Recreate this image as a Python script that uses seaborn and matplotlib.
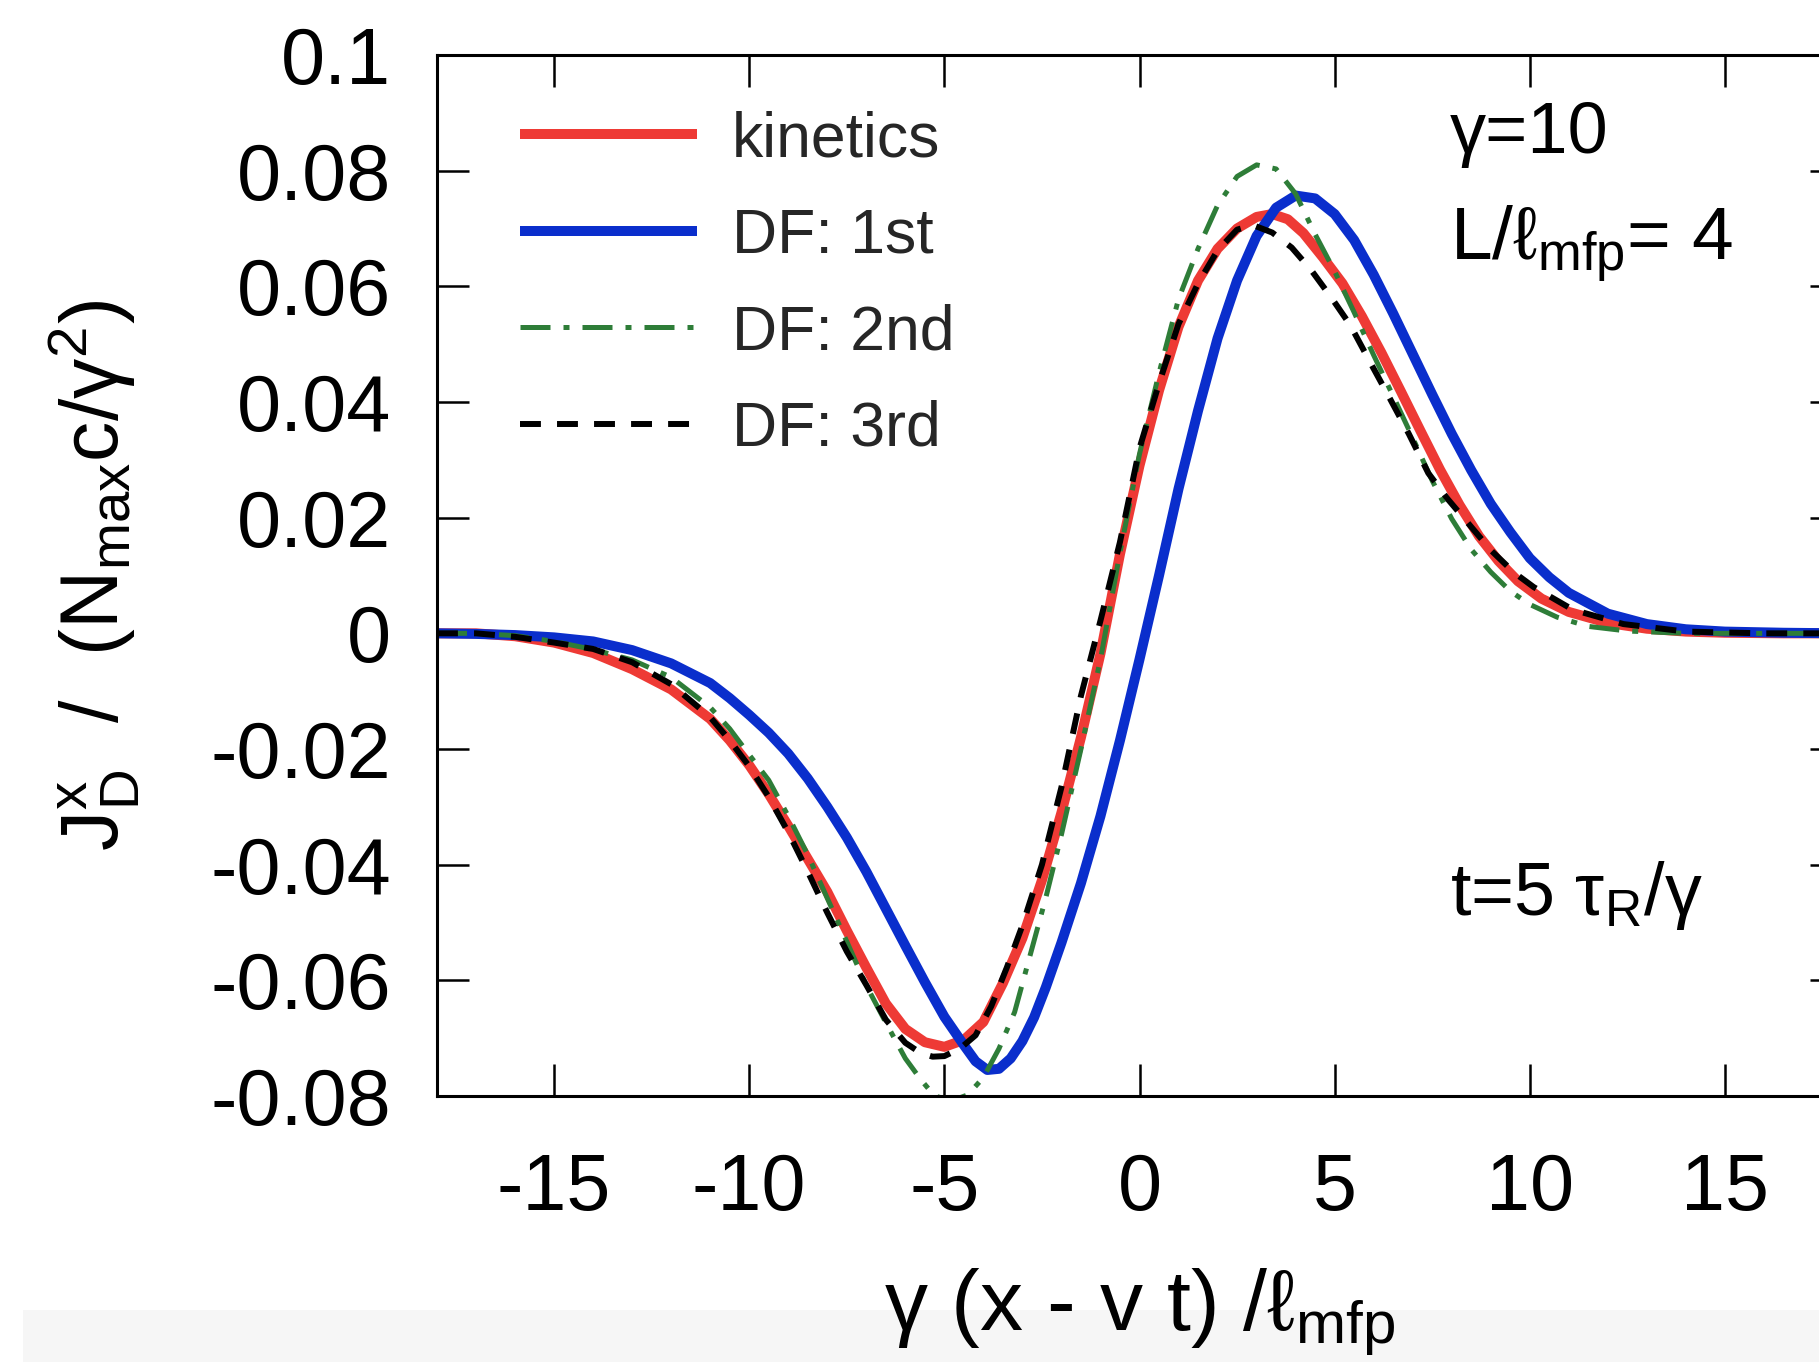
import matplotlib
matplotlib.use("Agg")
import matplotlib.pyplot as plt
from matplotlib.patches import Rectangle
import seaborn as sns

# ---------------- data ----------------
kin_x = [-18, -17, -16, -15, -14, -13, -12, -11, -10.5, -10, -9.5, -9, -8.5, -8, -7.5, -7,
         -6.5, -6, -5.5, -5, -4.5, -4, -3.5, -3, -2.5, -2, -1.5, -1, -0.5, 0, 0.5, 1, 1.5,
         2, 2.5, 3, 3.4, 3.8, 4.2, 4.7, 5.2, 5.7, 6.2, 6.7, 7.2, 7.7, 8.2, 8.7, 9.2, 9.7,
         10.3, 11, 12, 13, 14, 15, 16.5, 18]
kin_y = [0.0, 0.0, -0.0005, -0.0016, -0.0034, -0.0062, -0.0097, -0.0148, -0.0185, -0.0228,
         -0.0278, -0.0333, -0.0390, -0.0447, -0.0514, -0.0578, -0.0640, -0.0684, -0.0707,
         -0.0715, -0.0703, -0.0672, -0.0605, -0.0527, -0.0427, -0.0310, -0.0180, -0.0035,
         0.0137, 0.0290, 0.0420, 0.0530, 0.0610, 0.0665, 0.0700, 0.0720, 0.0725, 0.0716,
         0.0692, 0.0650, 0.0605, 0.0548, 0.0485, 0.0418, 0.0350, 0.0283, 0.0222, 0.0168,
         0.0125, 0.0090, 0.0060, 0.0037, 0.0018, 0.0008, 0.0003, 0.0001, 0.0, 0.0]

df1_x = [-18, -17, -16, -15, -14, -13, -12, -11, -10.5, -10, -9.5, -9, -8.5, -8, -7.5, -7,
         -6.5, -6, -5.5, -5, -4.5, -4.2, -3.9, -3.6, -3.3, -3.0, -2.7, -2.4, -2, -1.5, -1,
         -0.5, 0, 0.5, 1, 1.5, 2, 2.5, 3, 3.5, 4, 4.5, 5, 5.5, 6, 6.5, 7, 7.5, 8, 8.5, 9,
         9.5, 10, 10.5, 11, 12, 13, 14, 15, 16.5, 18]
df1_y = [0.0, -0.0001, -0.0003, -0.0007, -0.0014, -0.0029, -0.0052, -0.0086, -0.0112, -0.0141,
         -0.0172, -0.0208, -0.0251, -0.0300, -0.0353, -0.0412, -0.0476, -0.0540, -0.0603,
         -0.0663, -0.0712, -0.0740, -0.0755, -0.0753, -0.0735, -0.0705, -0.0664, -0.0612,
         -0.0535, -0.0432, -0.0316, -0.0185, -0.0045, 0.0100, 0.0250, 0.0385, 0.0510,
         0.0610, 0.0687, 0.0736, 0.0757, 0.0752, 0.0725, 0.0680, 0.0620, 0.0553, 0.0483,
         0.0413, 0.0345, 0.0282, 0.0224, 0.0175, 0.0130, 0.0097, 0.0070, 0.0034, 0.0016,
         0.0007, 0.0003, 0.0001, 0.0]

df2_x = [-18, -17, -16, -15, -14, -13, -12, -11, -10.5, -10, -9.5, -9, -8.5, -8, -7.5, -7,
         -6.5, -6, -5.6, -5.25, -4.8, -4.4, -4, -3.6, -3.2, -2.8, -2.4, -2, -1.5, -1, -0.5,
         0, 0.5, 1, 1.5, 2, 2.5, 3, 3.5, 4, 4.5, 5, 5.5, 6, 6.5, 7, 7.5, 8, 8.5, 9, 9.5,
         10, 10.7, 11.5, 12.5, 14, 18]
df2_y = [0.0, 0.0, -0.0004, -0.0014, -0.0028, -0.0046, -0.0076, -0.0128, -0.0165, -0.0210,
         -0.0254, -0.0316, -0.0383, -0.0458, -0.0533, -0.0609, -0.0673, -0.0735, -0.0772,
         -0.0800, -0.0808, -0.0798, -0.0768, -0.0718, -0.0655, -0.0556, -0.0457, -0.0348,
         -0.0200, -0.0045, 0.0140, 0.0310, 0.0450, 0.0578, 0.0665, 0.0740, 0.0790, 0.0810,
         0.0803, 0.0760, 0.0690, 0.0626, 0.0555, 0.0481, 0.0410, 0.0338, 0.0264, 0.0198,
         0.0145, 0.0106, 0.0073, 0.0050, 0.0028, 0.0012, 0.0004, 0.0, 0.0]

df3_x = [-18, -17, -16, -15, -14, -13, -12, -11, -10.5, -10, -9.5, -9, -8.5, -8, -7.5, -7,
         -6.5, -6, -5.6, -5.3, -5, -4.6, -4.2, -3.8, -3.4, -3, -2.5, -2, -1.5, -1, -0.5, 0,
         0.5, 1, 1.5, 2, 2.5, 2.9, 3.4, 3.9, 4.4, 4.9, 5.4, 5.9, 6.4, 6.9, 7.4, 7.9, 8.4,
         9, 9.6, 10.1, 11.1, 12.4, 14, 16, 18]
df3_y = [0.0, 0.0, -0.0006, -0.0016, -0.0027, -0.0050, -0.0088, -0.0145, -0.0185, -0.0230,
         -0.0283, -0.0344, -0.0412, -0.0483, -0.0550, -0.0608, -0.0668, -0.0708, -0.0726,
         -0.0732, -0.0731, -0.0718, -0.0695, -0.0645, -0.0578, -0.0505, -0.0400, -0.0266,
         -0.0108, 0.0022, 0.0158, 0.0320, 0.0432, 0.0535, 0.0605, 0.0662, 0.0698, 0.0706,
         0.0693, 0.0667, 0.0628, 0.0582, 0.0533, 0.0470, 0.0408, 0.0345, 0.0277, 0.0232,
         0.0192, 0.0144, 0.0105, 0.0080, 0.0041, 0.0016, 0.0003, 0.0, 0.0]

series_labels = ["kinetics", "DF: 1st", "DF: 2nd", "DF: 3rd"]
x_ticks = [-15, -10, -5, 0, 5, 10, 15]
x_tick_labels = ["-15", "-10", "-5", "0", "5", "10", "15"]
y_ticks = [-0.08, -0.06, -0.04, -0.02, 0.0, 0.02, 0.04, 0.06, 0.08, 0.1]
y_tick_labels = ["-0.08", "-0.06", "-0.04", "-0.02", "0", "0.02", "0.04", "0.06", "0.08", "0.1"]

# ---------------- style ----------------
sns.set_theme(style="ticks")
plt.rcParams["font.family"] = ["Liberation Sans", "DejaVu Sans"]
plt.rcParams["mathtext.fontset"] = "custom"
plt.rcParams["mathtext.rm"] = "Liberation Sans"
plt.rcParams["mathtext.it"] = "Liberation Sans:italic"
plt.rcParams["mathtext.bf"] = "Liberation Sans:bold"

W, H = 1819, 1362
fig = plt.figure(figsize=(W / 100, H / 100), dpi=100)
fig.patch.set_facecolor("white")
fig.add_artist(Rectangle((23 / W, 0), 1, 52 / H, transform=fig.transFigure,
                         facecolor="#f6f6f6", edgecolor="none", zorder=-10))

ax_left, ax_right, ax_top, ax_bottom = 437, 1842, 55, 1096
ax = fig.add_axes([ax_left / W, 1 - ax_bottom / H, (ax_right - ax_left) / W,
                   (ax_bottom - ax_top) / H])

common = dict(ax=ax, sort=False, estimator=None, solid_joinstyle="round",
              solid_capstyle="butt")
sns.lineplot(x=kin_x, y=kin_y, color="#ee3a35", lw=7.2, label=series_labels[0], **common)
sns.lineplot(x=df1_x, y=df1_y, color="#0a2ecc", lw=7.2, label=series_labels[1], **common)
sns.lineplot(x=df2_x, y=df2_y, color="#2e7d38", lw=3.6, label=series_labels[2],
             linestyle=(0, (6.0, 2.6, 1.2, 2.6)), **common)
sns.lineplot(x=df3_x, y=df3_y, color="black", lw=4.3, label=series_labels[3],
             linestyle=(0, (3.5, 2.7)), **common)

ax.set_xlim(-18, 18)
ax.set_ylim(-0.08, 0.1)
ax.set_xticks(x_ticks)
ax.set_xticklabels(x_tick_labels)
ax.set_yticks(y_ticks)
ax.set_yticklabels(y_tick_labels)
ax.tick_params(axis="both", direction="in", length=23, width=1.8, color="black",
               top=True, right=True, labelsize=57, labelcolor="black")
ax.tick_params(axis="x", pad=40)
ax.tick_params(axis="y", pad=33)
for s in ax.spines.values():
    s.set_visible(True)
    s.set_linewidth(2.2)
    s.set_color("black")
ax.grid(False)

ax.set_xlabel(r"γ (x - v t) /ℓ$_{\mathrm{mfp}}$", fontsize=62, color="black")
ax.xaxis.set_label_coords(0.5, -0.163)
ax.set_ylabel(r"J$^{\mathrm{x}}_{\mathrm{D}}$  /  (N$_{\mathrm{max}}$c/γ$^{2}$)",
              fontsize=58, color="black")
ax.yaxis.set_label_coords(-0.21, 0.5)

leg = ax.legend(loc="upper left", bbox_to_anchor=(0.059, 0.947), frameon=False,
                fontsize=45, handlelength=2.83, handletextpad=0.56, labelspacing=0.6,
                borderaxespad=0, borderpad=0)

ax.text(0.721, 0.906, "γ=10", transform=ax.transAxes, fontsize=52, va="baseline",
        ha="left", color="black")
ax.text(0.721, 0.803, r"L/ℓ$_{\mathrm{mfp}}$= 4", transform=ax.transAxes, fontsize=54,
        va="baseline", ha="left", color="black")
ax.text(0.721, 0.174, r"t=5 τ$_{\mathrm{R}}$/γ", transform=ax.transAxes, fontsize=53,
        va="baseline", ha="left", color="black")

fig.savefig("out.png", dpi=100)
